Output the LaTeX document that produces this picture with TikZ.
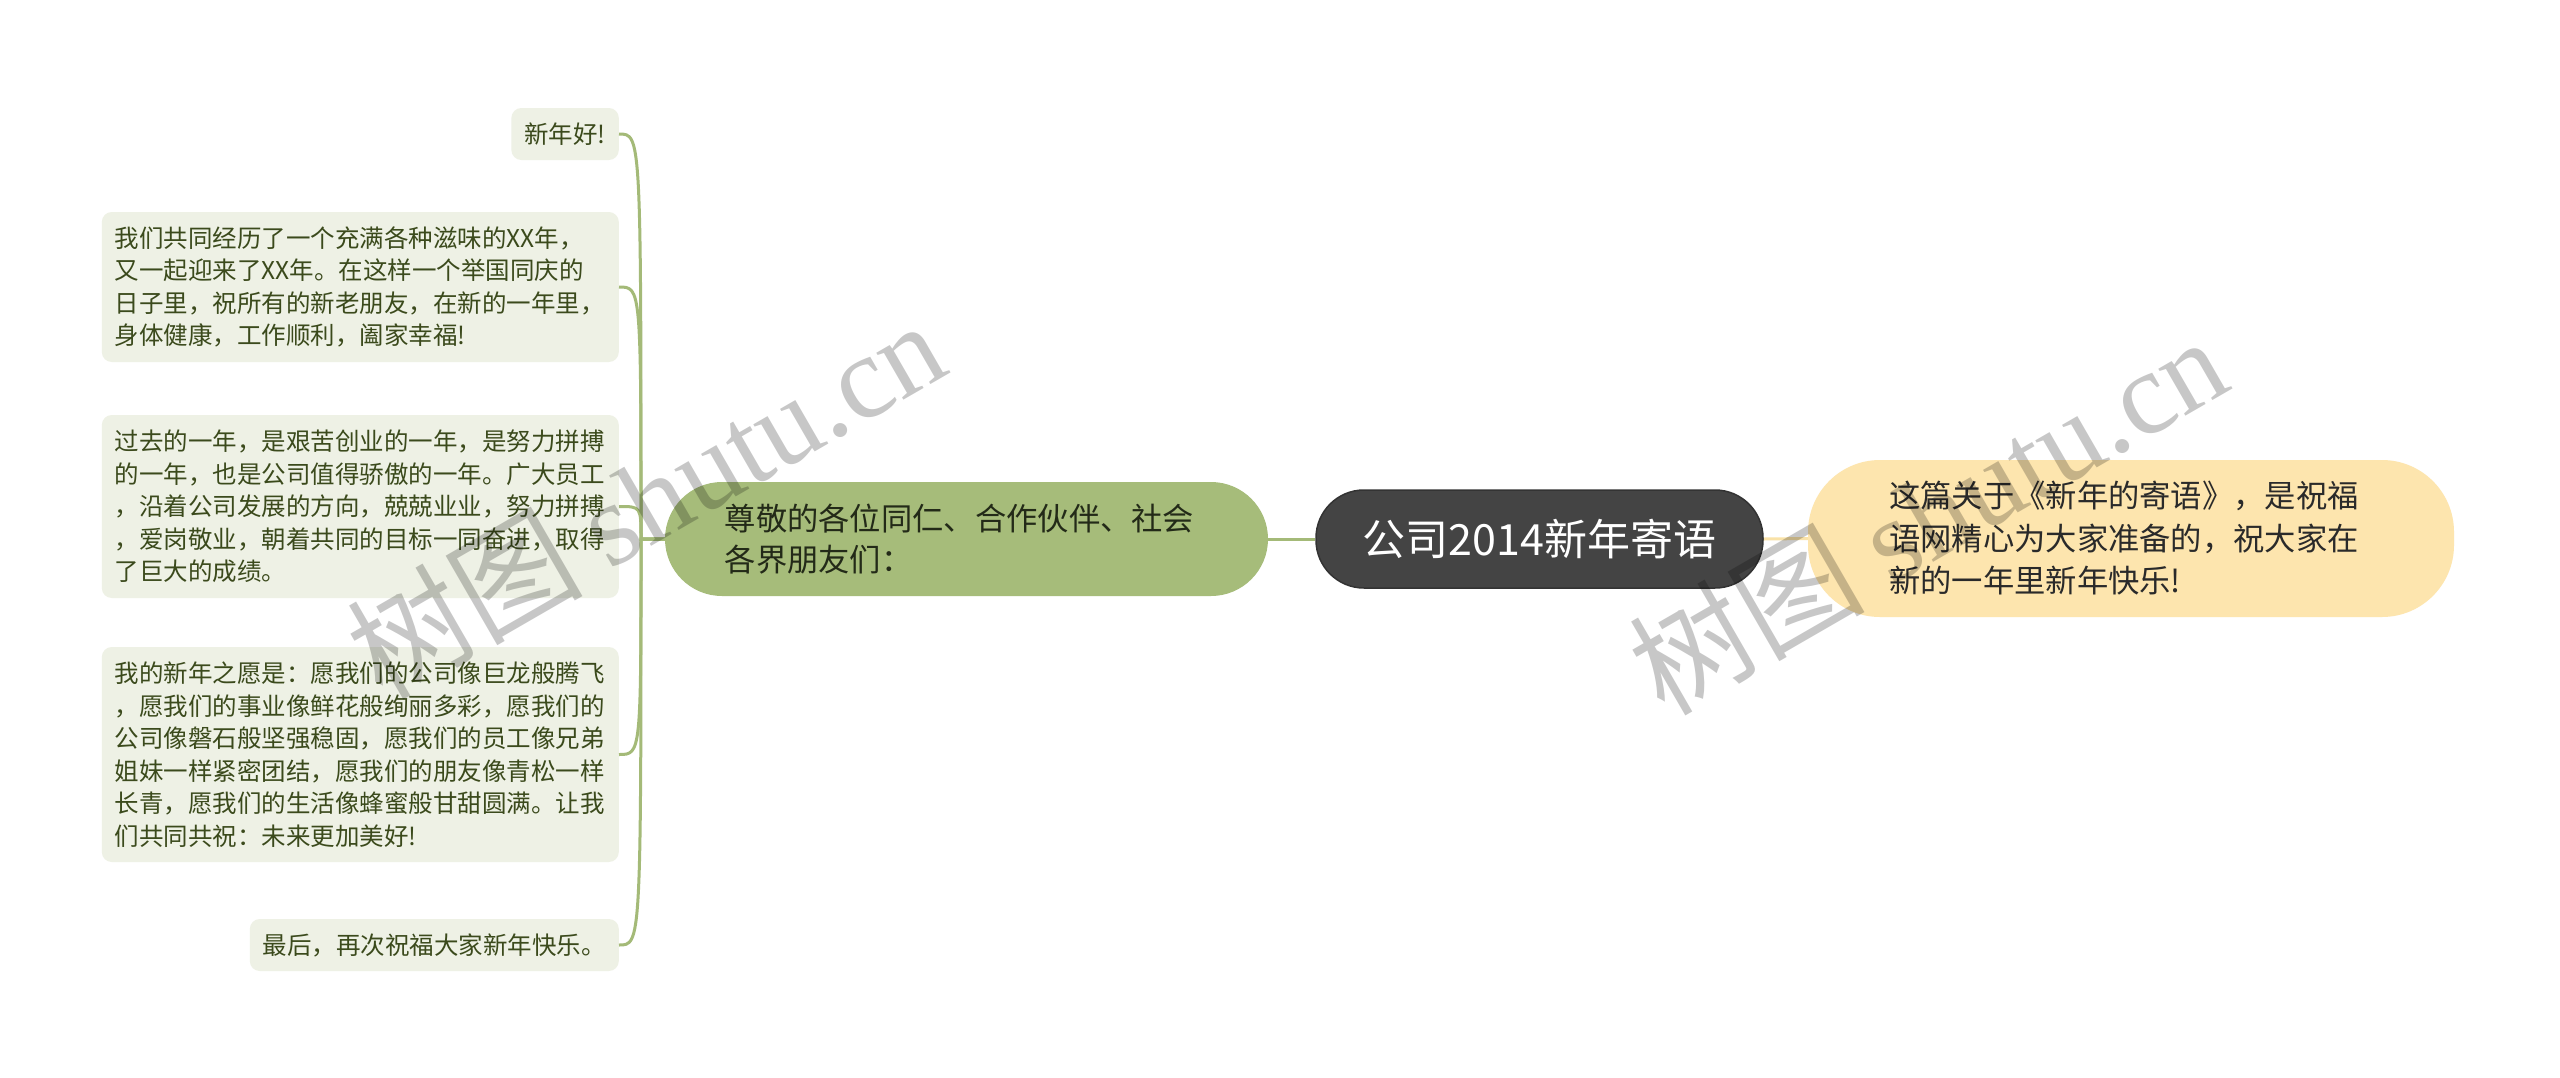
\documentclass[tikz,border=0pt]{standalone}
\usepackage{fontspec}
\setmainfont{Noto Sans CJK SC}
\newfontfamily\wmserif{Liberation Serif}
\definecolor{leaffill}{HTML}{EEF1E5}
\definecolor{leaftext}{HTML}{3B4A1C}
\definecolor{gline}{HTML}{A4BA78}
\definecolor{branchfill}{HTML}{A6BC7A}
\definecolor{branchtext}{HTML}{232A18}
\definecolor{rootfill}{HTML}{444444}
\definecolor{rootdraw}{HTML}{333333}
\definecolor{yfill}{HTML}{FDE5AE}
\definecolor{yline}{HTML}{F9E2A8}
\definecolor{ytext}{HTML}{2A2A2A}
\tikzset{
  leaf/.style={fill=leaffill, rounded corners=10pt, text=leaftext,
    font=\fontsize{24.5}{32.5}\selectfont, align=left, inner xsep=13pt,
    inner ysep=0pt, anchor=east},
  branchbox/.style={fill=branchfill, rounded corners=57pt, text=branchtext,
    font=\fontsize{31.3}{41}\selectfont, align=left, minimum width=603pt,
    minimum height=114pt, inner sep=0pt},
  rootbox/.style={fill=rootfill, draw=rootdraw, line width=1.5pt, rounded corners=48pt,
    text=white, font=\fontsize{43}{48}\selectfont, minimum width=447pt,
    minimum height=98pt, inner sep=0pt},
  ybox/.style={fill=yfill, rounded corners=72pt, text=ytext,
    font=\fontsize{31.3}{42.5}\selectfont, align=left, minimum width=646pt,
    minimum height=157pt, inner sep=0pt},
  gconn/.style={draw=gline, line width=3pt},
  yconn/.style={draw=yline, line width=3pt},
  wm/.style={text=black, text opacity=0.22, font=\fontsize{118}{120}\selectfont, inner sep=0pt}
}
\begin{document}
\begin{tikzpicture}[x=1pt, y=-1pt]
\useasboundingbox (0,0) rectangle (2560,1077);
\fill[white] (0,0) rectangle (2560,1077);

\coordinate (sp) at (641,539);

% nodes
\node[branchbox] (b) at (966.5,539) {尊敬的各位同仁、合作伙伴、社会\hspace*{14pt}\\各界朋友们：};
\node[rootbox] (r) at (1539.5,539) {公司2014新年寄语};
\node[ybox] (y) at (2131,538.5) {这篇关于《新年的寄语》，是祝福\hspace*{14pt}\\语网精心为大家准备的，祝大家在\\新的一年里新年快乐!};

\node[leaf, minimum height=52pt] (l1) at (619,134) {新年好!};
\node[leaf, text width=491pt, minimum height=150pt] (l2) at (619,287) {我们共同经历了一个充满各种滋味的XX年，\\又一起迎来了XX年。在这样一个举国同庆的\\日子里，祝所有的新老朋友，在新的一年里，\\身体健康，工作顺利，阖家幸福!};
\node[leaf, text width=491pt, minimum height=183pt] (l3) at (619,506.5) {过去的一年，是艰苦创业的一年，是努力拼搏\\的一年，也是公司值得骄傲的一年。广大员工\\，沿着公司发展的方向，兢兢业业，努力拼搏\\，爱岗敬业，朝着共同的目标一同奋进，取得\\了巨大的成绩。};
\node[leaf, text width=491pt, minimum height=215pt] (l4) at (619,754.5) {我的新年之愿是：愿我们的公司像巨龙般腾飞\\，愿我们的事业像鲜花般绚丽多彩，愿我们的\\公司像磐石般坚强稳固，愿我们的员工像兄弟\\姐妹一样紧密团结，愿我们的朋友像青松一样\\长青，愿我们的生活像蜂蜜般甘甜圆满。让我\\们共同共祝：未来更加美好!};
\node[leaf, minimum height=52pt] (l5) at (619,945) {最后，再次祝福大家新年快乐。};

% connectors
\foreach \l in {l1,l2,l3,l4,l5}{
  \draw[gconn] (b.west) -- (sp) .. controls (sp |- \l.east) and (sp |- \l.east) .. (\l.east);
}
\draw[gconn] (b.east) -- (r.west);
\draw[yconn] (r.east) -- (y.west);

% watermark
\node[wm, rotate=30] (wm1) at (645,498) {树图 {\wmserif shutu.cn}};
\node[wm, rotate=30] (wm2) at (1927,514) {树图 {\wmserif shutu.cn}};
\end{tikzpicture}
\end{document}
